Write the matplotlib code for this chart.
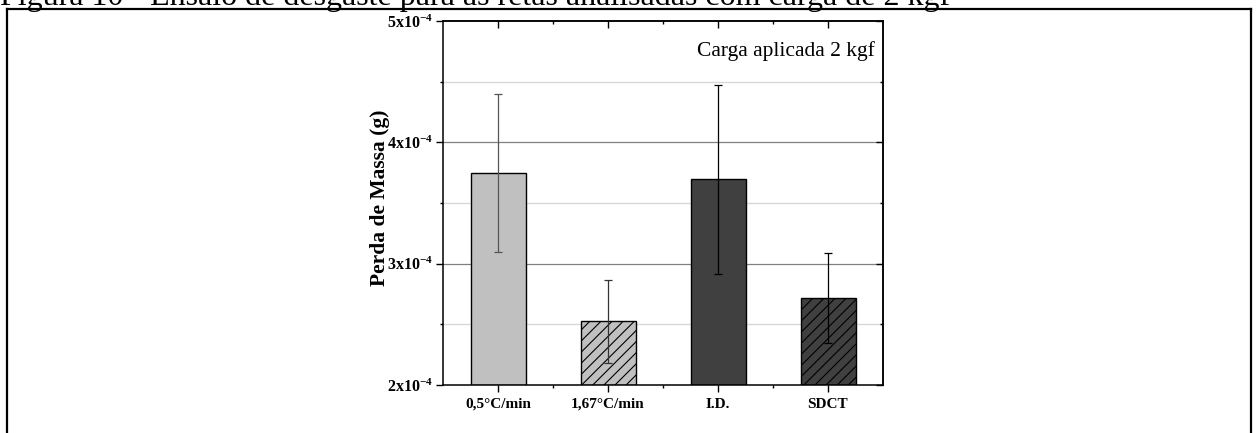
import matplotlib
matplotlib.use("Agg")
import matplotlib.pyplot as plt
from matplotlib.lines import Line2D
from matplotlib.ticker import FixedLocator

# ---- data ----
categories = ["0,5°C/min", "1,67°C/min", "I.D.", "SDCT"]
mass_loss = [3.75e-4, 2.525e-4, 3.695e-4, 2.715e-4]
mass_err = [0.65e-4, 0.34e-4, 0.78e-4, 0.37e-4]
bar_colors = ["#c0c0c0", "#c0c0c0", "#404040", "#404040"]
bar_hatches = ["", "///", "", "///"]
err_colors = ["#555555", "#333333", "#000000", "#000000"]
ytick_vals = [2e-4, 3e-4, 4e-4, 5e-4]
ytick_labels = [r"$\mathbf{2x10^{-4}}$", r"$\mathbf{3x10^{-4}}$",
                r"$\mathbf{4x10^{-4}}$", r"$\mathbf{5x10^{-4}}$"]
yminor_vals = [2.5e-4, 3.5e-4, 4.5e-4]
caption = "Figura 10 - Ensaio de desgaste para as retas analisadas com carga de 2 kgf"
annotation = "Carga aplicada 2 kgf"
ylabel = "Perda de Massa (g)"

plt.rcParams["font.family"] = ["Liberation Serif", "DejaVu Serif"]
plt.rcParams["mathtext.fontset"] = "custom"
plt.rcParams["mathtext.rm"] = "Liberation Serif:bold"
plt.rcParams["mathtext.bf"] = "Liberation Serif:bold"
plt.rcParams["mathtext.default"] = "bf"
plt.rcParams["hatch.linewidth"] = 0.8

W, H = 1256, 433
fig = plt.figure(figsize=(W / 100, H / 100), dpi=100)

ax = fig.add_axes([443 / W, 48 / H, 440 / W, 364 / H])
x = list(range(1, len(categories) + 1))

# grid lines
for v in yminor_vals:
    ax.axhline(v, color="#d8d8d8", lw=1.0, zorder=0)
for v in ytick_vals[1:-1]:
    ax.axhline(v, color="#808080", lw=0.9, zorder=0)

for xi, v, e, c, h, ec in zip(x, mass_loss, mass_err, bar_colors, bar_hatches, err_colors):
    ax.bar(xi, v - 2e-4, bottom=2e-4, width=0.5, color=c, edgecolor="black",
           linewidth=1.0, hatch=h, zorder=2)
    ax.errorbar(xi, v, yerr=e, fmt="none", ecolor=ec, elinewidth=0.9,
                capsize=3, capthick=0.9, zorder=3)

ax.set_xlim(0.5, 4.5)
ax.set_ylim(2e-4, 5e-4)
ax.set_yticks(ytick_vals)
ax.set_yticklabels(ytick_labels, fontsize=11.5)
ax.yaxis.set_minor_locator(FixedLocator(yminor_vals))
ax.set_xticks(x)
ax.set_xticklabels(categories, fontsize=11, fontweight="bold")
ax.xaxis.set_minor_locator(FixedLocator([1.5, 2.5, 3.5]))

ax.tick_params(axis="both", which="major", direction="out", length=5, width=1.0, pad=2)
ax.tick_params(axis="x", which="major", pad=4)
ax.tick_params(axis="both", which="minor", direction="out", length=2.5, width=1.0)
for sp in ax.spines.values():
    sp.set_linewidth(1.1)

# mirrored ticks (inward) on top and right
sx = ax.secondary_xaxis("top")
sx.set_xticks(x)
sx.set_xticklabels([])
sx.xaxis.set_minor_locator(FixedLocator([1.5, 2.5, 3.5]))
sx.tick_params(which="major", direction="in", length=5, width=1.0)
sx.tick_params(which="minor", direction="in", length=2.5, width=1.0)
sx.spines["top"].set_linewidth(1.1)

sy = ax.secondary_yaxis("right")
sy.set_yticks(ytick_vals)
sy.set_yticklabels([])
sy.yaxis.set_minor_locator(FixedLocator(yminor_vals))
sy.tick_params(which="major", direction="in", length=5, width=1.0)
sy.tick_params(which="minor", direction="in", length=2.5, width=1.0)
sy.spines["right"].set_linewidth(1.1)

ax.set_ylabel(ylabel, fontsize=15.5, fontweight="bold")
ax.yaxis.set_label_coords(-0.12, 0.515)

ax.text(0.982, 0.944, annotation, transform=ax.transAxes, ha="right", va="top",
        fontsize=15.5)

# page caption (clipped at the top edge, as in the reference) and frame
fig.text(0 / W, 1 - 4.5 / H, caption, fontsize=23, ha="left", va="baseline")
fig.add_artist(Line2D([7 / W, 1251 / W], [1 - 9 / H, 1 - 9 / H], color="black", lw=1.6,
                      transform=fig.transFigure))
fig.add_artist(Line2D([7 / W, 7 / W], [1 - 9 / H, 0], color="black", lw=1.6,
                      transform=fig.transFigure))
fig.add_artist(Line2D([1251 / W, 1251 / W], [1 - 9 / H, 0], color="black", lw=1.6,
                      transform=fig.transFigure))

fig.savefig("out.png", dpi=100)
